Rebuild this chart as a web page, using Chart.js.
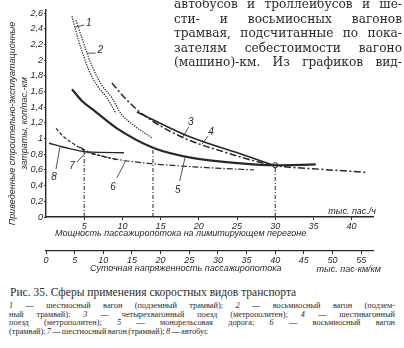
<!DOCTYPE html>
<html lang="ru">
<head>
<meta charset="utf-8">
<title>Рис. 35. Сферы применения скоростных видов транспорта</title>
<script src="https://cdn.jsdelivr.net/npm/chart.js@4/dist/chart.umd.min.js"></script>
<style>
  html, body { margin: 0; padding: 0; background: #fff; }
  #page { position: relative; width: 404px; height: 348px; overflow: hidden; color: #2a2a2a; font-family: 'Liberation Serif', 'DejaVu Serif', serif; }
  #spheresChart { position: absolute; left: 0; top: 0; }
  #para { position: absolute; left: 174px; top: -3px; width: 228px; font-family: 'DejaVu Serif', serif; font-size: 12.2px; line-height: 14.5px; }
  #para div, #notes div.j { text-align: justify; text-align-last: justify; white-space: nowrap; }
  #figTitle { position: absolute; left: 10px; top: 285px; font-size: 11.5px; line-height: 14px; }
  #notes { position: absolute; left: 9px; top: 302px; width: 386px; font-size: 8.3px; line-height: 8.7px; word-spacing: -0.8px; }
  #notes i { font-style: italic; }
</style>
</head>
<body>
<div id="page">
  <canvas id="spheresChart" width="404" height="285"></canvas>
  <div id="para">
    <div>автобусов и троллейбусов и ше-</div>
    <div>сти- и восьмиосных вагонов</div>
    <div>трамвая, подсчитанные по пока-</div>
    <div>зателям себестоимости вагоно</div>
    <div>(машино)-км. Из графиков вид-</div>
  </div>
  <div id="figTitle">Рис. 35. Сферы применения скоростных видов транспорта</div>
  <div id="notes">
    <div class="j"><i>1</i> — шестиосный вагон (подземный трамвай); <i>2</i> — восьмиосный вагон (подзем-</div>
    <div class="j">ный трамвай); <i>3</i> — четырехвагонный поезд (метрополитен); <i>4</i> — шестивагонный</div>
    <div class="j">поезд (метрополитен); <i>5</i> — монорельсовая дорога; <i>6</i> — восьмиосный вагон</div>
    <div>(трамвай); <i>7</i> — шестиосный вагон (трамвай); <i>8</i> — автобус</div>
  </div>
</div>
<script>
// curves: [passenger flow, thousand pas/h ; cost, kop per pas-km]
const curve1 = [[3.4, 2.56], [4.18, 2.28], [4.97, 2.04], [5.62, 1.87], [6.67, 1.68], [7.97, 1.52], [9.15, 1.32]];
const curve2 = [[3.92, 2.51], [4.71, 2.28], [5.49, 2.06], [6.27, 1.87], [7.32, 1.68], [8.63, 1.52], [9.8, 1.32], [11.76, 1.15], [13.86, 1.01]];
const curve3 = [[8.63, 1.71], [10.6, 1.49], [12.8, 1.3], [18.0, 1.01], [23.3, 0.83], [29.8, 0.66], [35.8, 0.61], [41.8, 0.57]];
const curve4 = [[11.9, 1.34], [18.4, 1.04], [25.9, 0.79], [29.8, 0.66]];
const curve5 = [[3.4, 1.63], [4.71, 1.48], [6.27, 1.36], [9.28, 1.13], [14.1, 0.88], [19.3, 0.75], [25.9, 0.68], [29.8, 0.66], [35.3, 0.67]];
const curve6 = [[4.44, 0.89], [5.36, 0.84], [8.5, 0.75], [12.8, 0.69], [19.3, 0.64], [27.2, 0.6]];
const curve7 = [[1.31, 1.13], [2.35, 1.02], [3.66, 0.93], [5.36, 0.83], [7.19, 0.78], [9.28, 0.73]];
const curve8 = [[0.39, 0.94], [2.35, 0.89], [5.36, 0.83], [10.2, 0.82]];

// boundaries between modes
const boundaries = [[5, 0.83], [14, 0.88], [30, 0.66]];
const junction = [30, 0.66];

const yTicks = [0, 0.2, 0.4, 0.6, 0.8, 1, 1.2, 1.4, 1.6, 1.8, 2, 2.2, 2.4, 2.6];
const yTickLabels = ['0', '0,2', '0,4', '0,6', '0,8', '1', '1,2', '1,4', '1,6', '1,8', '2', '2,2', '2,4', '2,6'];
const xTicks = [5, 10, 15, 20, 25, 30, 35, 40];
const x2Ticks = [0, 5, 10, 15, 20, 25, 30, 35, 40, 45, 50, 55];

// curve numbers: [text, label x, label y, leader from x, y, to x, y]
const curveTags = [
  ['1', 5.6, 2.47, 5.0, 2.45, 3.8, 2.42],
  ['2', 7.1, 2.13, 6.5, 2.09, 5.4, 2.09],
  ['3', 18.95, 1.21, 18.7, 1.15, 17.9, 1.02],
  ['4', 21.6, 1.08, 21.2, 1.03, 20.4, 0.93],
  ['5', 17.25, 0.34, 17.5, 0.46, 18.2, 0.76],
  ['6', 8.76, 0.38, 9.28, 0.5, 10.4, 0.71],
  ['7', 3.4, 0.65, 4.05, 0.7, 5.2, 0.82],
  ['8', 1.05, 0.51, 1.31, 0.61, 1.83, 0.9]
];

const ink = '#272727';
const handFont = "'Liberation Sans', 'DejaVu Sans', sans-serif";
const tickFont = { family: handFont, size: 9, style: 'italic' };

function pts(list) {
  return list.map(p => ({ x: p[0], y: p[1] }));
}

function curve(list, width, dash) {
  return {
    data: pts(list),
    borderColor: ink,
    borderWidth: width,
    borderDash: dash,
    pointRadius: 0,
    fill: false,
    cubicInterpolationMode: 'monotone'
  };
}

const datasets = boundaries.map(b => ({
  data: [{ x: b[0], y: 0 }, { x: b[0], y: b[1] }],
  borderColor: ink,
  borderWidth: 1,
  borderDash: [4, 2, 1, 2],
  pointRadius: 0,
  tension: 0
}));

datasets.push(
  curve(curve1, 1.3, [1.2, 1.3]),
  curve(curve2, 1.3, [1.2, 1.3]),
  curve(curve3, 1.5, [7, 2.5, 2, 2.5]),
  curve(curve4, 1.7, []),
  curve(curve5, 2.2, []),
  curve(curve6, 1.2, [6, 2, 1.5, 2]),
  curve(curve7, 1.2, [3.5, 2]),
  curve(curve8, 1.4, []),
  {
    data: [{ x: junction[0], y: junction[1] }],
    showLine: false,
    pointRadius: 2.6,
    pointBackgroundColor: '#fff',
    pointBorderColor: ink,
    pointBorderWidth: 1
  }
);

// axis titles and curve numbers
const captions = {
  id: 'captions',
  afterDraw(chart) {
    const c = chart.ctx;
    const area = chart.chartArea;
    const sx = chart.scales.x;
    const sy = chart.scales.y;
    const s2 = chart.scales.x2;
    c.save();
    c.fillStyle = ink;
    c.strokeStyle = ink;
    c.textBaseline = 'middle';
    c.font = 'italic 9px ' + handFont;

    c.textAlign = 'left';
    c.fillText('Мощность пассажиропотока на лимитирующем перегоне', area.left + 9, sx.top + 16);
    c.fillText('Суточная напряженность пассажиропотока', area.left + 44, s2.top + 17);
    c.textAlign = 'right';
    c.fillText('тыс. пас./ч', area.right + 3, area.bottom - 6);
    c.fillText('тыс. пас-км/км', area.right + 8, s2.top + 18);

    // rotated title of the cost axis
    c.save();
    c.translate(area.left - 34, (area.top + area.bottom) / 2 + 10);
    c.rotate(-Math.PI / 2);
    c.textAlign = 'center';
    c.fillText('Приведенные строительно-эксплуатационные', 0, 0);
    c.fillText('затраты, коп/пас.-км', 0, 12);
    c.restore();

    c.font = 'italic 10px ' + handFont;
    c.textAlign = 'center';
    c.lineWidth = 0.8;
    curveTags.forEach(t => {
      c.fillText(t[0], sx.getPixelForValue(t[1]), sy.getPixelForValue(t[2]));
      c.beginPath();
      c.moveTo(sx.getPixelForValue(t[3]), sy.getPixelForValue(t[4]));
      c.lineTo(sx.getPixelForValue(t[5]), sy.getPixelForValue(t[6]));
      c.stroke();
    });
    c.restore();
  }
};

const chartCanvas = document.getElementById('spheresChart');

const spheresChart = new Chart(chartCanvas, {
  type: 'line',
  data: { datasets: datasets },
  options: {
    responsive: false,
    animation: false,
    devicePixelRatio: 1,
    layout: { padding: { top: 10, right: 31, left: 0, bottom: 0 } },
    plugins: { legend: { display: false }, tooltip: { enabled: false } },
    scales: {
      x: {
        type: 'linear',
        position: 'bottom',
        weight: 0,
        min: 0,
        max: 42.8,
        afterBuildTicks: s => { s.ticks = xTicks.map(v => ({ value: v })); },
        afterFit: s => { s.height = 34; },
        grid: { drawOnChartArea: false, tickLength: 3, color: ink },
        border: { color: ink, width: 1.4 },
        ticks: { color: ink, font: tickFont, padding: 1, maxRotation: 0 }
      },
      x2: {
        type: 'linear',
        position: 'bottom',
        weight: 1,
        min: 0,
        max: 42.8 * 4 / 3,
        afterBuildTicks: s => { s.ticks = x2Ticks.map(v => ({ value: v })); },
        afterFit: s => { s.height = 34; },
        grid: { drawOnChartArea: false, tickLength: 3, color: ink },
        border: { color: ink, width: 1.2 },
        ticks: { color: ink, font: tickFont, padding: 1, maxRotation: 0 }
      },
      y: {
        type: 'linear',
        position: 'left',
        min: 0,
        max: 2.64,
        afterBuildTicks: s => { s.ticks = yTicks.map(v => ({ value: v })); },
        afterFit: s => { s.width = 46; },
        grid: { drawOnChartArea: false, tickLength: 2, color: ink },
        border: { color: ink, width: 1.4 },
        ticks: { color: ink, font: tickFont, padding: 1, callback: (v, i) => yTickLabels[i] }
      }
    }
  },
  plugins: [captions]
});
</script>
</body>
</html>
